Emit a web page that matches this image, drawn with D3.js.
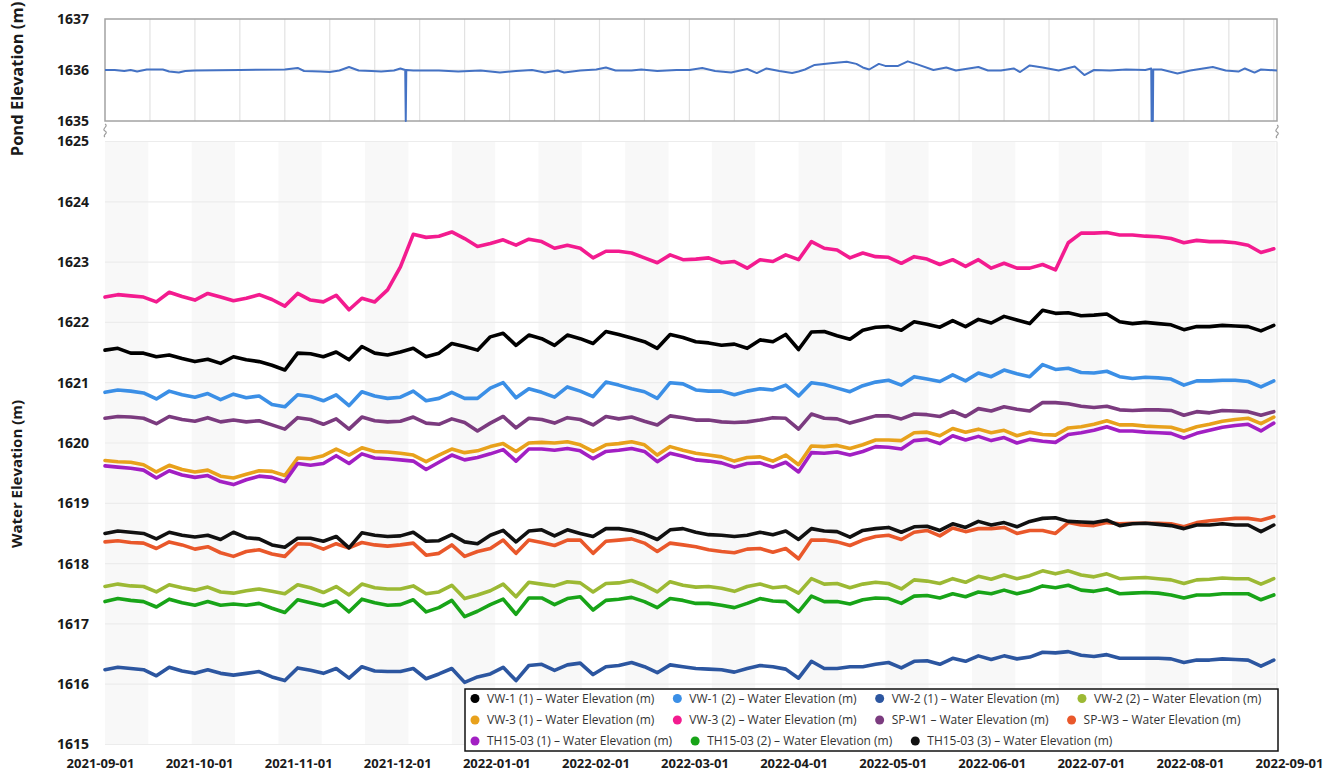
<!DOCTYPE html>
<html>
<head>
<meta charset="utf-8">
<script src="https://cdn.jsdelivr.net/npm/d3@7"></script>
<style>
body { margin: 0; background: #fff; }
svg { display: block; font-family: "Open Sans", sans-serif; }
</style>
</head>
<body>
<script>
// ---- data ----
let seriesNames = ["VW-1 (1)", "VW-1 (2)", "VW-2 (1)", "VW-2 (2)", "VW-3 (1)", "VW-3 (2)",
	"SP-W1", "SP-W3", "TH15-03 (1)", "TH15-03 (2)", "TH15-03 (3)"];
let seriesColors = ["#000000", "#3b8fe6", "#2c56a0", "#9cb934", "#e8a11c", "#f31b8f",
	"#7b3b7f", "#e9582b", "#a21fc3", "#18a418", "#111111"];

let xTickLabels = ["2021-09-01", "2021-10-01", "2021-11-01", "2021-12-01", "2022-01-01", "2022-02-01",
	"2022-03-01", "2022-04-01", "2022-05-01", "2022-06-01", "2022-07-01", "2022-08-01", "2022-09-01"];
let pondTicks = [1635, 1636, 1637];
let waterTicks = [1615, 1616, 1617, 1618, 1619, 1620, 1621, 1622, 1623, 1624, 1625];

// pond level (irregular dates, the two drops hit the bottom of the panel)
let pondDates = ["2021-09-01", "2021-09-04", "2021-09-07", "2021-09-09", "2021-09-11", "2021-09-14",
	"2021-09-19", "2021-09-21", "2021-09-24", "2021-09-26", "2021-09-29", "2021-10-13", "2021-10-27",
	"2021-10-31", "2021-11-02", "2021-11-07", "2021-11-10", "2021-11-13", "2021-11-16", "2021-11-19",
	"2021-11-23", "2021-11-26", "2021-11-30", "2021-12-02", "2021-12-03 12:00", "2021-12-03 16:00",
	"2021-12-03 20:00", "2021-12-06", "2021-12-14", "2021-12-20", "2021-12-27", "2022-01-02",
	"2022-01-07", "2022-01-12", "2022-01-16", "2022-01-20", "2022-01-22", "2022-01-27", "2022-02-01",
	"2022-02-04", "2022-02-07", "2022-02-12", "2022-02-15", "2022-02-20", "2022-02-26", "2022-03-02",
	"2022-03-06", "2022-03-10", "2022-03-15", "2022-03-20", "2022-03-23", "2022-03-26", "2022-03-30",
	"2022-04-03", "2022-04-05", "2022-04-07", "2022-04-10", "2022-04-15", "2022-04-20", "2022-04-23",
	"2022-04-25", "2022-04-27", "2022-04-30", "2022-05-02", "2022-05-06", "2022-05-09", "2022-05-12",
	"2022-05-17", "2022-05-21", "2022-05-24", "2022-05-31", "2022-06-03", "2022-06-07", "2022-06-11",
	"2022-06-13", "2022-06-16", "2022-06-20", "2022-06-25", "2022-06-30", "2022-07-03", "2022-07-06",
	"2022-07-11", "2022-07-16", "2022-07-22", "2022-07-23 20:00", "2022-07-23 23:00", "2022-07-24 08:00",
	"2022-07-24 11:00", "2022-07-27", "2022-08-01", "2022-08-05", "2022-08-12", "2022-08-16",
	"2022-08-20", "2022-08-22", "2022-08-25", "2022-08-27", "2022-09-01"];
let pondValues = [1636.00, 1636.00, 1635.98, 1636.00, 1635.97, 1636.01,
	1636.01, 1635.97, 1635.95, 1635.98, 1635.99, 1636.00, 1636.01,
	1636.04, 1635.98, 1635.97, 1635.96, 1635.99, 1636.06, 1635.99,
	1635.98, 1635.97, 1635.99, 1636.03, 1636.00, 1635.00,
	1636.00, 1635.99, 1635.99, 1635.97, 1635.99, 1635.95,
	1635.98, 1636.00, 1635.95, 1635.99, 1635.95, 1635.99, 1636.01,
	1636.05, 1635.99, 1635.99, 1636.01, 1635.98, 1636.00, 1636.00,
	1636.04, 1635.98, 1635.95, 1636.02, 1635.94, 1636.03, 1635.98,
	1635.94, 1635.97, 1636.01, 1636.10, 1636.13, 1636.16, 1636.12,
	1636.05, 1636.01, 1636.12, 1636.08, 1636.08, 1636.17, 1636.11,
	1636.00, 1636.05, 1635.99, 1636.06, 1635.99, 1635.99, 1636.03,
	1635.96, 1636.09, 1636.05, 1635.99, 1636.07, 1635.90, 1636.00,
	1635.99, 1636.01, 1636.00, 1636.03, 1635.00, 1635.00,
	1636.01, 1636.01, 1635.93, 1635.99, 1636.06, 1635.99,
	1635.97, 1636.03, 1635.95, 1636.01, 1635.99];

// water elevations, one reading every 4 days from 2021-09-01
let vw1a = [1621.54, 1621.57, 1621.49, 1621.49, 1621.43, 1621.46, 1621.40, 1621.35, 1621.39, 1621.32, 1621.43, 1621.38, 1621.35, 1621.29, 1621.21, 1621.49, 1621.48, 1621.43, 1621.51, 1621.38, 1621.60, 1621.49, 1621.46, 1621.51, 1621.57, 1621.43, 1621.49, 1621.65, 1621.60, 1621.54,
	1621.76, 1621.82, 1621.62, 1621.79, 1621.73, 1621.62, 1621.79, 1621.73, 1621.65, 1621.85, 1621.80, 1621.74, 1621.68, 1621.57, 1621.80, 1621.75, 1621.68, 1621.66, 1621.62, 1621.64, 1621.57, 1621.71, 1621.68, 1621.80, 1621.55, 1621.84, 1621.85, 1621.78, 1621.72, 1621.87, 1621.92,
	1621.93, 1621.87, 1622.01, 1621.97, 1621.92, 1622.03, 1621.93, 1622.05, 1621.99, 1622.10, 1622.04, 1621.98, 1622.20, 1622.15, 1622.16, 1622.11, 1622.12, 1622.14, 1622.01, 1621.98, 1622.00, 1621.98, 1621.96, 1621.88, 1621.93, 1621.93, 1621.95, 1621.94, 1621.93, 1621.86, 1621.95];
let vw1b = [1620.84, 1620.88, 1620.86, 1620.83, 1620.73, 1620.86, 1620.80, 1620.76, 1620.82, 1620.72, 1620.81, 1620.75, 1620.78, 1620.64, 1620.60, 1620.80, 1620.77, 1620.70, 1620.80, 1620.62, 1620.85, 1620.78, 1620.74, 1620.76, 1620.86, 1620.70, 1620.74, 1620.84, 1620.74, 1620.74,
	1620.91, 1621.00, 1620.75, 1620.90, 1620.84, 1620.76, 1620.93, 1620.86, 1620.77, 1621.01, 1620.96, 1620.90, 1620.85, 1620.74, 1621.00, 1620.98, 1620.88, 1620.86, 1620.86, 1620.80, 1620.86, 1620.90, 1620.88, 1620.96, 1620.78, 1621.00, 1620.97, 1620.91, 1620.85, 1620.95, 1621.01,
	1621.04, 1620.96, 1621.10, 1621.06, 1621.02, 1621.13, 1621.03, 1621.16, 1621.10, 1621.21, 1621.15, 1621.10, 1621.30, 1621.22, 1621.24, 1621.17, 1621.16, 1621.19, 1621.10, 1621.07, 1621.09, 1621.08, 1621.06, 1620.96, 1621.03, 1621.03, 1621.04, 1621.04, 1621.02, 1620.93, 1621.03];
let vw2a = [1616.24, 1616.28, 1616.26, 1616.24, 1616.14, 1616.28, 1616.22, 1616.18, 1616.24, 1616.18, 1616.15, 1616.18, 1616.21, 1616.12, 1616.06, 1616.27, 1616.23, 1616.18, 1616.26, 1616.10, 1616.29, 1616.22, 1616.21, 1616.21, 1616.26, 1616.09, 1616.17, 1616.26, 1616.03, 1616.12,
	1616.17, 1616.28, 1616.06, 1616.31, 1616.33, 1616.23, 1616.32, 1616.35, 1616.16, 1616.29, 1616.31, 1616.36, 1616.29, 1616.19, 1616.32, 1616.29, 1616.26, 1616.25, 1616.24, 1616.20, 1616.26, 1616.31, 1616.29, 1616.25, 1616.10, 1616.38, 1616.26, 1616.26, 1616.29, 1616.29, 1616.33,
	1616.36, 1616.27, 1616.38, 1616.39, 1616.33, 1616.43, 1616.38, 1616.47, 1616.41, 1616.47, 1616.42, 1616.45, 1616.53, 1616.52, 1616.54, 1616.48, 1616.46, 1616.49, 1616.43, 1616.43, 1616.43, 1616.43, 1616.42, 1616.36, 1616.40, 1616.40, 1616.42, 1616.41, 1616.40, 1616.30, 1616.40];
let vw2b = [1617.62, 1617.66, 1617.63, 1617.62, 1617.53, 1617.65, 1617.60, 1617.56, 1617.61, 1617.53, 1617.51, 1617.55, 1617.58, 1617.54, 1617.50, 1617.65, 1617.60, 1617.52, 1617.62, 1617.48, 1617.66, 1617.60, 1617.58, 1617.58, 1617.63, 1617.50, 1617.53, 1617.64, 1617.42, 1617.48,
	1617.55, 1617.66, 1617.45, 1617.69, 1617.66, 1617.63, 1617.70, 1617.68, 1617.53, 1617.67, 1617.68, 1617.72, 1617.64, 1617.53, 1617.70, 1617.64, 1617.61, 1617.62, 1617.59, 1617.54, 1617.62, 1617.66, 1617.60, 1617.62, 1617.51, 1617.75, 1617.66, 1617.67, 1617.60, 1617.66, 1617.69,
	1617.67, 1617.58, 1617.73, 1617.71, 1617.67, 1617.75, 1617.69, 1617.79, 1617.74, 1617.81, 1617.75, 1617.80, 1617.88, 1617.83, 1617.88, 1617.81, 1617.78, 1617.83, 1617.75, 1617.76, 1617.77, 1617.75, 1617.73, 1617.67, 1617.73, 1617.74, 1617.76, 1617.75, 1617.75, 1617.66, 1617.75];
let vw3a = [1619.71, 1619.69, 1619.68, 1619.64, 1619.52, 1619.63, 1619.56, 1619.52, 1619.55, 1619.45, 1619.42, 1619.48, 1619.54, 1619.53, 1619.46, 1619.75, 1619.74, 1619.79, 1619.90, 1619.80, 1619.92, 1619.86, 1619.85, 1619.83, 1619.80, 1619.69, 1619.80, 1619.90, 1619.84, 1619.87,
	1619.94, 1619.99, 1619.86, 1620.00, 1620.01, 1620.00, 1620.02, 1619.97, 1619.86, 1619.97, 1619.99, 1620.02, 1619.97, 1619.80, 1619.94, 1619.88, 1619.83, 1619.80, 1619.77, 1619.70, 1619.76, 1619.77, 1619.70, 1619.80, 1619.64, 1619.95, 1619.94, 1619.96, 1619.91, 1619.97, 1620.05,
	1620.05, 1620.04, 1620.17, 1620.18, 1620.12, 1620.24, 1620.18, 1620.23, 1620.17, 1620.21, 1620.12, 1620.18, 1620.14, 1620.13, 1620.25, 1620.27, 1620.31, 1620.37, 1620.30, 1620.30, 1620.28, 1620.27, 1620.26, 1620.20, 1620.27, 1620.31, 1620.36, 1620.39, 1620.41, 1620.32, 1620.43];
let vw3b = [1622.42, 1622.46, 1622.44, 1622.42, 1622.34, 1622.50, 1622.43, 1622.37, 1622.48, 1622.42, 1622.36, 1622.40, 1622.46, 1622.38, 1622.27, 1622.48, 1622.37, 1622.34, 1622.45, 1622.21, 1622.40, 1622.34, 1622.54, 1622.92, 1623.46, 1623.41, 1623.43, 1623.50, 1623.39, 1623.26,
	1623.31, 1623.37, 1623.28, 1623.38, 1623.34, 1623.23, 1623.28, 1623.23, 1623.07, 1623.18, 1623.18, 1623.15, 1623.07, 1622.99, 1623.12, 1623.04, 1623.05, 1623.07, 1622.99, 1623.01, 1622.90, 1623.04, 1623.01, 1623.12, 1623.04, 1623.34, 1623.23, 1623.20, 1623.07, 1623.15, 1623.09,
	1623.08, 1622.98, 1623.09, 1623.05, 1622.96, 1623.04, 1622.93, 1623.04, 1622.90, 1622.98, 1622.90, 1622.90, 1622.96, 1622.87, 1623.32, 1623.48, 1623.48, 1623.49, 1623.45, 1623.45, 1623.43, 1623.42, 1623.39, 1623.32, 1623.36, 1623.34, 1623.34, 1623.32, 1623.28, 1623.16, 1623.22];
let spw1 = [1620.41, 1620.44, 1620.43, 1620.41, 1620.32, 1620.44, 1620.39, 1620.36, 1620.42, 1620.35, 1620.38, 1620.35, 1620.37, 1620.30, 1620.23, 1620.42, 1620.39, 1620.31, 1620.40, 1620.23, 1620.43, 1620.37, 1620.35, 1620.36, 1620.43, 1620.33, 1620.31, 1620.40, 1620.34, 1620.20,
	1620.33, 1620.44, 1620.25, 1620.41, 1620.39, 1620.33, 1620.42, 1620.39, 1620.30, 1620.44, 1620.40, 1620.43, 1620.36, 1620.30, 1620.45, 1620.42, 1620.38, 1620.38, 1620.35, 1620.34, 1620.35, 1620.38, 1620.42, 1620.41, 1620.23, 1620.48, 1620.41, 1620.40, 1620.33, 1620.39, 1620.45,
	1620.45, 1620.40, 1620.48, 1620.47, 1620.44, 1620.53, 1620.44, 1620.57, 1620.53, 1620.60, 1620.56, 1620.53, 1620.67, 1620.67, 1620.65, 1620.61, 1620.59, 1620.61, 1620.55, 1620.54, 1620.55, 1620.55, 1620.54, 1620.46, 1620.52, 1620.50, 1620.54, 1620.53, 1620.52, 1620.46, 1620.52];
let spw3 = [1618.36, 1618.38, 1618.35, 1618.34, 1618.25, 1618.36, 1618.31, 1618.24, 1618.28, 1618.18, 1618.12, 1618.20, 1618.23, 1618.16, 1618.12, 1618.33, 1618.32, 1618.24, 1618.33, 1618.26, 1618.35, 1618.31, 1618.29, 1618.31, 1618.34, 1618.14, 1618.17, 1618.31, 1618.12, 1618.20,
	1618.25, 1618.39, 1618.17, 1618.39, 1618.35, 1618.30, 1618.39, 1618.39, 1618.17, 1618.37, 1618.39, 1618.41, 1618.34, 1618.20, 1618.34, 1618.31, 1618.28, 1618.23, 1618.20, 1618.18, 1618.24, 1618.25, 1618.19, 1618.25, 1618.08, 1618.39, 1618.39, 1618.36, 1618.30, 1618.39, 1618.45,
	1618.47, 1618.40, 1618.52, 1618.55, 1618.46, 1618.59, 1618.53, 1618.58, 1618.58, 1618.60, 1618.50, 1618.55, 1618.55, 1618.50, 1618.68, 1618.64, 1618.63, 1618.68, 1618.66, 1618.67, 1618.67, 1618.67, 1618.66, 1618.61, 1618.68, 1618.71, 1618.73, 1618.75, 1618.75, 1618.72, 1618.78];
let th1 = [1619.62, 1619.60, 1619.58, 1619.55, 1619.42, 1619.54, 1619.47, 1619.43, 1619.46, 1619.36, 1619.31, 1619.39, 1619.45, 1619.43, 1619.36, 1619.66, 1619.63, 1619.66, 1619.79, 1619.66, 1619.82, 1619.75, 1619.74, 1619.72, 1619.70, 1619.56, 1619.68, 1619.80, 1619.72, 1619.76,
	1619.82, 1619.89, 1619.70, 1619.90, 1619.90, 1619.88, 1619.91, 1619.87, 1619.74, 1619.86, 1619.88, 1619.91, 1619.86, 1619.69, 1619.83, 1619.78, 1619.72, 1619.70, 1619.67, 1619.60, 1619.66, 1619.67, 1619.60, 1619.68, 1619.52, 1619.84, 1619.83, 1619.85, 1619.80, 1619.86, 1619.94,
	1619.93, 1619.90, 1620.04, 1620.06, 1619.99, 1620.12, 1620.05, 1620.11, 1620.04, 1620.09, 1620.00, 1620.06, 1620.03, 1620.01, 1620.14, 1620.17, 1620.21, 1620.27, 1620.20, 1620.20, 1620.18, 1620.17, 1620.16, 1620.08, 1620.16, 1620.21, 1620.26, 1620.29, 1620.31, 1620.20, 1620.33];
let th2 = [1617.37, 1617.42, 1617.39, 1617.37, 1617.28, 1617.41, 1617.35, 1617.31, 1617.37, 1617.31, 1617.33, 1617.31, 1617.34, 1617.26, 1617.19, 1617.40, 1617.35, 1617.30, 1617.38, 1617.20, 1617.41, 1617.35, 1617.31, 1617.32, 1617.40, 1617.20, 1617.27, 1617.39, 1617.12, 1617.21,
	1617.32, 1617.41, 1617.16, 1617.43, 1617.43, 1617.32, 1617.42, 1617.45, 1617.23, 1617.39, 1617.41, 1617.44, 1617.37, 1617.27, 1617.42, 1617.39, 1617.34, 1617.34, 1617.31, 1617.27, 1617.34, 1617.42, 1617.38, 1617.37, 1617.20, 1617.46, 1617.37, 1617.37, 1617.33, 1617.40, 1617.43,
	1617.42, 1617.34, 1617.46, 1617.47, 1617.43, 1617.50, 1617.45, 1617.53, 1617.50, 1617.56, 1617.50, 1617.55, 1617.63, 1617.60, 1617.64, 1617.56, 1617.54, 1617.58, 1617.50, 1617.51, 1617.52, 1617.51, 1617.48, 1617.43, 1617.48, 1617.48, 1617.50, 1617.50, 1617.50, 1617.40, 1617.48];
let th3 = [1618.50, 1618.54, 1618.52, 1618.50, 1618.41, 1618.52, 1618.47, 1618.44, 1618.47, 1618.40, 1618.52, 1618.43, 1618.41, 1618.31, 1618.27, 1618.42, 1618.42, 1618.37, 1618.45, 1618.26, 1618.51, 1618.47, 1618.45, 1618.46, 1618.52, 1618.37, 1618.38, 1618.48, 1618.36, 1618.33,
	1618.47, 1618.55, 1618.36, 1618.54, 1618.56, 1618.46, 1618.56, 1618.50, 1618.45, 1618.58, 1618.58, 1618.55, 1618.49, 1618.40, 1618.56, 1618.58, 1618.52, 1618.48, 1618.47, 1618.45, 1618.47, 1618.52, 1618.48, 1618.54, 1618.40, 1618.58, 1618.54, 1618.53, 1618.44, 1618.55, 1618.58,
	1618.60, 1618.52, 1618.61, 1618.62, 1618.55, 1618.66, 1618.60, 1618.70, 1618.64, 1618.68, 1618.61, 1618.70, 1618.75, 1618.76, 1618.70, 1618.69, 1618.68, 1618.72, 1618.63, 1618.66, 1618.67, 1618.65, 1618.63, 1618.58, 1618.64, 1618.64, 1618.66, 1618.64, 1618.64, 1618.53, 1618.64];

let seriesValues = [vw1a, vw1b, vw2a, vw2b, vw3a, vw3b, spw1, spw3, th1, th2, th3];

// ---- layout ----
let width = 1334, height = 772;
let plotLeft = 105, plotRight = 1277;
let pondTop = 19, pondBottom = 121;
let waterTop = 141.5, waterBottom = 744.5;

let parseDate = d3.timeParse("%Y-%m-%d");
let parseTime = d3.timeParse("%Y-%m-%d %H:%M");
function parseAny(s) { return parseTime(s) || parseDate(s); }

let startDate = parseDate("2021-09-01");
let endDate = parseDate("2022-09-01");
let sampleDates = d3.timeDay.range(startDate, endDate, 4);

// scales
let xScale = d3.scaleTime().domain([startDate, endDate]).range([plotLeft, plotRight]);
let yPond = d3.scaleLinear().domain([1635, 1637]).range([pondBottom, pondTop]);
let yWater = d3.scaleLinear().domain([1615, 1625]).range([waterBottom, waterTop]);
let xLabelScale = d3.scalePoint().domain(xTickLabels).range([100, 1289]);

let svg = d3.select("body").append("svg")
	.attr("width", width)
	.attr("height", height);

// ---- pond panel ----
let pondG = svg.append("g");

// vertical grid every two weeks
pondG.selectAll(".vgrid")
		.data(d3.timeDay.range(startDate, endDate, 14).slice(1))
	.enter().append("line")
		.attr("x1", d => xScale(d)).attr("x2", d => xScale(d))
		.attr("y1", pondTop).attr("y2", pondBottom)
		.attr("stroke", "#e2e2e2").attr("stroke-width", 1.2);

pondG.append("line")
	.attr("x1", plotLeft).attr("x2", plotRight)
	.attr("y1", yPond(1636)).attr("y2", yPond(1636))
	.attr("stroke", "#e2e2e2");

pondG.append("rect")
	.attr("x", plotLeft).attr("y", pondTop)
	.attr("width", plotRight - plotLeft).attr("height", pondBottom - pondTop)
	.attr("fill", "none").attr("stroke", "#a3a3a3").attr("stroke-width", 1.5);

let pondData = pondDates.map((d, i) => ({date: parseAny(d), value: pondValues[i]}));

pondG.append("path")
	.datum(pondData)
	.attr("fill", "none")
	.attr("stroke", "#4472c4")
	.attr("stroke-width", 2)
	.attr("stroke-linejoin", "round")
	.attr("d", d3.line().x(d => xScale(d.date)).y(d => yPond(d.value)));

let pondAxis = pondG.append("g")
	.attr("transform", "translate(" + plotLeft + ",0)")
	.call(d3.axisLeft(yPond).tickValues(pondTicks).tickSize(0).tickPadding(16).tickFormat(d3.format("d")));
pondAxis.select(".domain").remove();

// ---- water panel ----
let waterG = svg.append("g");

// alternating light bands
let bandStarts = d3.timeDay.range(startDate, endDate, 27);
waterG.selectAll(".band")
		.data(bandStarts)
	.enter().append("rect")
		.attr("x", d => xScale(d))
		.attr("y", waterTop)
		.attr("width", d => Math.min(xScale(d3.timeHour.offset(d, 13.5 * 24)), plotRight) - xScale(d))
		.attr("height", waterBottom - waterTop)
		.attr("fill", "#f8f8f8");

waterG.selectAll(".hgrid")
		.data(waterTicks)
	.enter().append("line")
		.attr("x1", plotLeft).attr("x2", plotRight)
		.attr("y1", d => yWater(d)).attr("y2", d => yWater(d))
		.attr("stroke", "#ececec").attr("stroke-width", 1.2);

waterG.append("line")
	.attr("x1", plotRight).attr("x2", plotRight)
	.attr("y1", waterTop).attr("y2", waterBottom)
	.attr("stroke", "#e6e6e6").attr("stroke-width", 1.2);

let waterLine = d3.line()
	.x((d, i) => xScale(sampleDates[i]))
	.y(d => yWater(d));

waterG.selectAll(".series")
		.data(seriesValues)
	.enter().append("path")
		.attr("fill", "none")
		.attr("stroke", (d, i) => seriesColors[i])
		.attr("stroke-width", 3.6)
		.attr("stroke-linejoin", "round")
		.attr("stroke-linecap", "round")
		.attr("d", d => waterLine(d));

let waterAxis = waterG.append("g")
	.attr("transform", "translate(" + plotLeft + ",0)")
	.call(d3.axisLeft(yWater).tickValues(waterTicks).tickSize(0).tickPadding(16).tickFormat(d3.format("d")));
waterAxis.select(".domain").remove();

let xAxis = svg.append("g")
	.attr("transform", "translate(0,752.5)")
	.call(d3.axisBottom(xLabelScale).tickSize(0).tickPadding(6));
xAxis.select(".domain").remove();

svg.selectAll(".tick text")
	.attr("font-family", "'Open Sans', sans-serif")
	.attr("font-weight", "bold")
	.attr("fill", "#1a1a1a");
pondAxis.selectAll("text").attr("font-size", 14);
waterAxis.selectAll("text").attr("font-size", 14);
xAxis.selectAll("text").attr("font-size", 13);

// axis break marks
let squiggle = "M0,-6 C4,-4 -4,-1 0,1 C4,3 -3,5 0,7";
[[plotLeft, 130], [plotRight, 131]].forEach(p => {
	svg.append("path")
		.attr("d", squiggle)
		.attr("transform", "translate(" + p[0] + "," + p[1] + ")")
		.attr("fill", "none").attr("stroke", "#9a9a9a").attr("stroke-width", 1.2);
});

// axis titles
svg.append("text")
	.attr("transform", "translate(23,79) rotate(-90)")
	.attr("text-anchor", "middle")
	.attr("font-size", 16.5).attr("font-weight", "bold").attr("fill", "#1a1a1a")
	.text("Pond Elevation (m)");
svg.append("text")
	.attr("transform", "translate(22,474) rotate(-90)")
	.attr("text-anchor", "middle")
	.attr("font-size", 15).attr("font-weight", "bold").attr("fill", "#1a1a1a")
	.text("Water Elevation (m)");

// ---- legend ----
let legendRows = [[0, 1, 2, 3], [4, 5, 6, 7], [8, 9, 10]];
let legendLeft = 465, legendTop = 689, legendRight = 1278, legendBottom = 751;
let rowY = [698.5, 720, 741];

let legend = svg.append("g");
legend.append("rect")
	.attr("x", legendLeft).attr("y", legendTop)
	.attr("width", legendRight - legendLeft).attr("height", legendBottom - legendTop)
	.attr("fill", "#fff").attr("stroke", "#111").attr("stroke-width", 1.5);

legendRows.forEach((row, r) => {
	let cursor = legendLeft + 5;
	row.forEach(idx => {
		legend.append("circle")
			.attr("cx", cursor + 5).attr("cy", rowY[r])
			.attr("r", 4.5).attr("fill", seriesColors[idx]);
		let t = legend.append("text")
			.attr("x", cursor + 17).attr("y", rowY[r])
			.attr("dy", "0.35em")
			.attr("font-size", 12).attr("fill", "#333")
			.text(seriesNames[idx] + " \u2013 Water Elevation (m)");
		cursor += 17 + t.node().getComputedTextLength() + 18;
	});
});
</script>
</body>
</html>
